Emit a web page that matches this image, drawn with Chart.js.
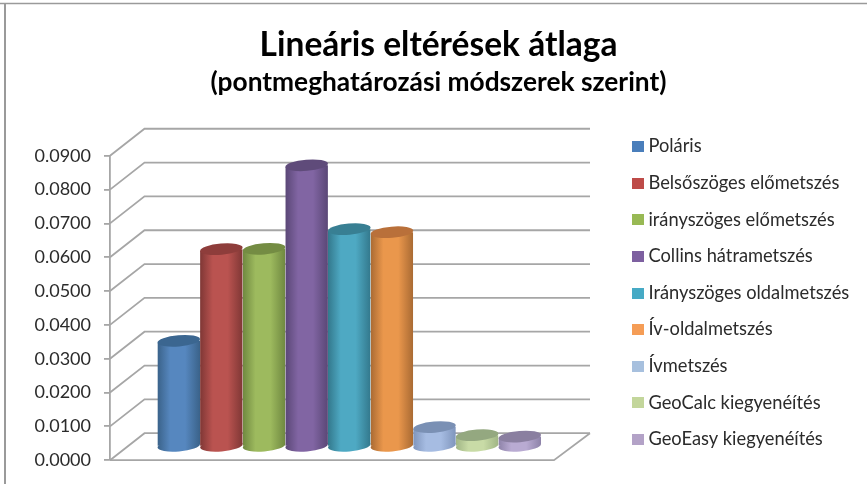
<!DOCTYPE html>
<html><head><meta charset="utf-8">
<style>html,body{margin:0;padding:0;background:#fff}#box{position:absolute;left:0;top:0;width:867px;height:484px}canvas{filter:blur(0.4px)}</style>
<script src="https://cdn.jsdelivr.net/npm/chart.js@4"></script></head>
<body><div id="box"><canvas id="c" width="867" height="484"></canvas></div>
<script>
const titleText = 'Lineáris eltérések átlaga';
const subtitleText = '(pontmeghatározási módszerek szerint)';
const categories = [''];
const seriesNames = ['Poláris','Belsőszöges előmetszés','irányszöges előmetszés','Collins hátrametszés','Irányszöges oldalmetszés','Ív-oldalmetszés','Ívmetszés','GeoCalc kiegyenéítés','GeoEasy kiegyenéítés'];
const seriesValues = [0.0313,0.0584,0.0585,0.0832,0.0643,0.0634,0.0058,0.0034,0.0030];
const lightColors = ['#5687BF','#BA5350','#9DBA5E','#8165A3','#4EA9C3','#EA974C','#A6BCE2','#C8DBA6','#B9ABD2'];
const edgeColors  = ['#3A6289','#7F3735','#6F8840','#5A4776','#33788C','#A96A33','#7F95BC','#A0B585','#8D82A8'];
const topColors   = ['#3B6690','#8E3D3B','#748C43','#5F4B7A','#387F93','#B9703A','#7A90B4','#94A880','#8A7FA0'];
const legendColors= ['#4A7EBB','#BE4B48','#98B954','#7D60A0','#46AAC5','#F59D56','#A7C0DE','#C3D69B','#B3A2C7'];
const yMax = 0.09, yStep = 0.01;
const depthX = 34.5, depthY = 27, rightBackX = 590;
const gridColor = '#A6A6A6';

function swatch(col){
  const s=document.createElement('canvas'); s.width=12; s.height=11;
  const g=s.getContext('2d'); g.fillStyle=col; g.fillRect(0,0,12,11); return s;
}
function bodyGradient(ctx,x0,w,i){
  const g=ctx.createLinearGradient(x0,0,x0+w,0);
  g.addColorStop(0,edgeColors[i]); g.addColorStop(.3,lightColors[i]);
  g.addColorStop(.65,lightColors[i]); g.addColorStop(1,edgeColors[i]);
  return g;
}
const TILT=-0.085, RY=5.6;
const cylinder3d = {
  id:'cylinder3d',
  beforeDraw(chart){
    const c=chart.ctx, y=chart.scales.y, a=chart.chartArea;
    c.save(); c.strokeStyle=gridColor; c.lineWidth=1.8;
    for(let k=0;k<=Math.round(yMax/yStep);k++){
      const py=y.getPixelForValue(k*yStep);
      c.beginPath(); c.moveTo(a.left,py); c.lineTo(a.left+depthX,py-depthY); c.lineTo(rightBackX,py-depthY); c.stroke();
    }
    const p0=y.getPixelForValue(0);
    c.beginPath(); c.moveTo(a.left,p0); c.lineTo(a.right,p0); c.lineTo(rightBackX,p0-depthY); c.stroke();
    c.restore();
    c.save(); c.strokeStyle='#9A9A9A'; c.lineWidth=1.5; c.beginPath(); c.moveTo(0,3.5); c.lineTo(867,3.5); c.stroke();
    c.lineWidth=2; c.beginPath(); c.moveTo(5,3); c.lineTo(5,chart.height); c.stroke(); c.restore();
  },
  beforeDatasetDraw(chart,args){
    const meta=args.meta, c=chart.ctx, el=meta.data[0], i=args.index;
    const w=el.width, x0=el.x-w/2, yT=el.y, yB=el.base, dy=Math.tan(-TILT)*w/2;
    const grad=bodyGradient(c,x0,w,i);
    c.save(); c.translate(depthX/2,-depthY/2);
    el.options.backgroundColor=grad; el.options.borderWidth=0;
    c.fillStyle=grad; c.beginPath(); c.ellipse(el.x,yB,w/2,RY,TILT,0,Math.PI*2); c.fill();
    c.beginPath(); c.moveTo(x0,yT+dy); c.lineTo(x0+w,yT-dy); c.lineTo(x0+w,yB-dy); c.lineTo(x0,yB+dy); c.closePath(); c.clip();
  },
  afterDatasetDraw(chart,args){
    const el=args.meta.data[0], c=chart.ctx, i=args.index, w=el.width;
    c.restore();
    c.save(); c.translate(depthX/2,-depthY/2);
    c.fillStyle=topColors[i]; c.beginPath(); c.ellipse(el.x,el.y,w/2,RY,TILT,0,Math.PI*2); c.fill();
    c.restore();
  },
  afterLayout(chart){
    const l=chart.legend, dy=49.5;
    l.left=619; l.right=867; l.width=248; l.top+=dy; l.bottom+=dy;
    for(const b of [chart.titleBlock, chart.boxes.find(x=>x.options&&x.options.text===subtitleText)]){
      if(b){b.left=0;b.right=877;}
    }
  }
};
const chart=new Chart(document.getElementById('c'),{
  type:'bar',
  data:{labels:categories,datasets:seriesNames.map((n,i)=>({label:n,data:[seriesValues[i]],backgroundColor:lightColors[i],clip:false}))},
  plugins:[cylinder3d],
  options:{
    responsive:false,animation:false,
    categoryPercentage:0.864,barPercentage:1,
    layout:{autoPadding:false,padding:{left:0,right:128.33,bottom:22,top:25}},
    plugins:{
      tooltip:{enabled:false},
      title:{display:true,text:titleText,color:'#000',font:{family:'Lato',size:33.5,weight:'bold'},padding:{top:0,bottom:2}},
      subtitle:{display:true,text:subtitleText,color:'#000',font:{family:'Lato',size:26.3,weight:'bold'},padding:{top:0,bottom:57}},
      legend:{position:'right',labels:{color:'#2b2b2b',font:{family:'Lato',size:18.3},padding:18.3,usePointStyle:true,pointStyleWidth:2,boxHeight:11,
        generateLabels:ch=>ch.data.datasets.map((d,i)=>({text:d.label,fillStyle:legendColors[i],strokeStyle:legendColors[i],lineWidth:0,pointStyle:swatch(legendColors[i]),datasetIndex:i,fontColor:'#2b2b2b'}))}}
    },
    scales:{
      x:{display:false},
      y:{min:0,max:yMax,
        afterFit(s){s.width=110;},
        grid:{drawOnChartArea:false,drawTicks:true,tickLength:6,color:gridColor,lineWidth:1.8},
        border:{display:true,color:gridColor,width:1.8},
        ticks:{stepSize:yStep,padding:13,color:'#2b2b2b',font:{family:'Lato',size:18},callback:v=>v.toFixed(4)}
      }
    }
  }
});
</script></body></html>
